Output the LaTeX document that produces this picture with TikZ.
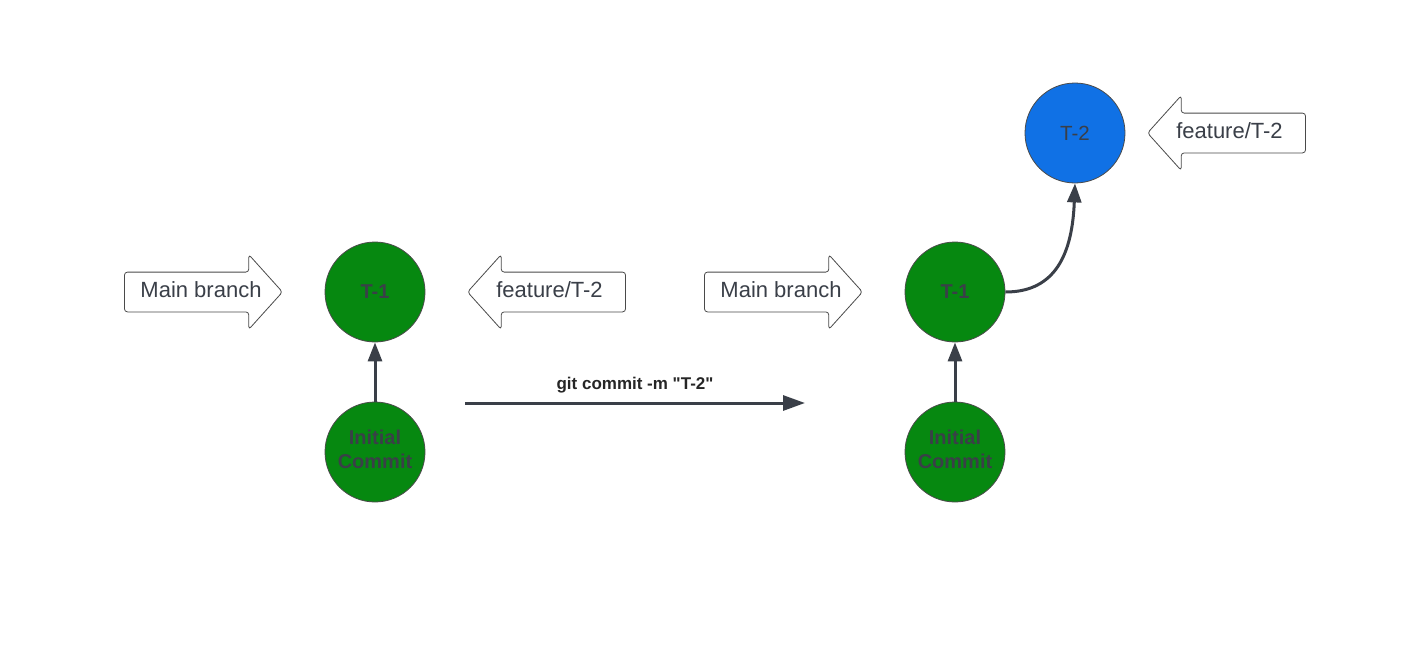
\documentclass[tikz,border=0pt]{standalone}
\usepackage{fontspec}
\setmainfont{Liberation Sans}[Ligatures=TeXOff]
\usetikzlibrary{calc,positioning,shapes.arrows,arrows.meta}

\definecolor{commitgreen}{HTML}{068810}
\definecolor{commitblue}{HTML}{1071E5}
\definecolor{linkgray}{HTML}{3A3F48}
\definecolor{rimgray}{HTML}{4A4A4A}

% tag text with no width of its own, moved by #1
\newcommand{\tagtext}[2]{\makebox[0pt]{\kern#1\relax#2\kern-#1\relax}}

\tikzset{
    commit/.style={circle,draw=rimgray,line width=0.8pt,minimum size=100pt,
        inner sep=0pt,text=linkgray,align=center,
        font=\fontsize{20}{24}\selectfont\bfseries},
    branchtag/.style={single arrow,draw=rimgray,fill=white,line width=0.8pt,
        rounded corners=3pt,minimum height=158pt,single arrow head extend=17.5pt,
        single arrow tip angle=96,single arrow head indent=0pt,
        text height=16pt,text depth=5pt,inner ysep=9pt,inner xsep=0pt,
        text=linkgray,font=\fontsize{22}{26}\selectfont},
    link/.style={draw=linkgray,line width=3pt,
        -{Triangle[length=19pt,width=14pt]}},
}

\begin{document}
\begin{tikzpicture}[x=1pt,y=-1pt]
\useasboundingbox (0,0) rectangle (1401,667);

% before the commit
\node[commit,fill=commitgreen] (cInitA) at (375,452) {Initial\\Commit\\[-18pt]};
\node[commit,fill=commitgreen] (cTOneA) at (375,292) {T-1};
\node[branchtag,anchor=tip] (mainA) at (283,292) {\tagtext{6.5pt}{Main branch}};
\node[branchtag,anchor=tip,shape border rotate=180] (featA) at (467,292) {\tagtext{-6pt}{feature/T-2}};

\draw[link] (cInitA) -- (cTOneA);

% the command
\coordinate (cmdStart) at (465,403);
\coordinate (cmdEnd) at (805,403);
\draw[link,-{Triangle[length=22pt,width=15pt]}] (cmdStart) -- (cmdEnd)
    node[midway,above=5pt,text=black!85,font=\fontsize{17}{20}\selectfont\bfseries]
    (cmdText) {git commit -m "T-2"};

% after the commit
\node[commit,fill=commitgreen] (cInitB) at (955,452) {Initial\\Commit\\[-18pt]};
\node[commit,fill=commitgreen] (cTOneB) at (955,292) {T-1};
\node[commit,fill=commitblue,font=\fontsize{20.5}{24}\selectfont] (cTTwoB) at (1075,133) {T-2};
\node[branchtag,anchor=tip] (mainB) at (863,292) {\tagtext{6.5pt}{Main branch}};
\node[branchtag,anchor=tip,shape border rotate=180] (featB) at (1147,133) {\tagtext{-6pt}{feature/T-2}};

\draw[link] (cInitB) -- (cTOneB);
\draw[link] (cTOneB.east) .. controls (1050,292) and (1072,262) .. (cTTwoB.south);

\end{tikzpicture}
\end{document}
